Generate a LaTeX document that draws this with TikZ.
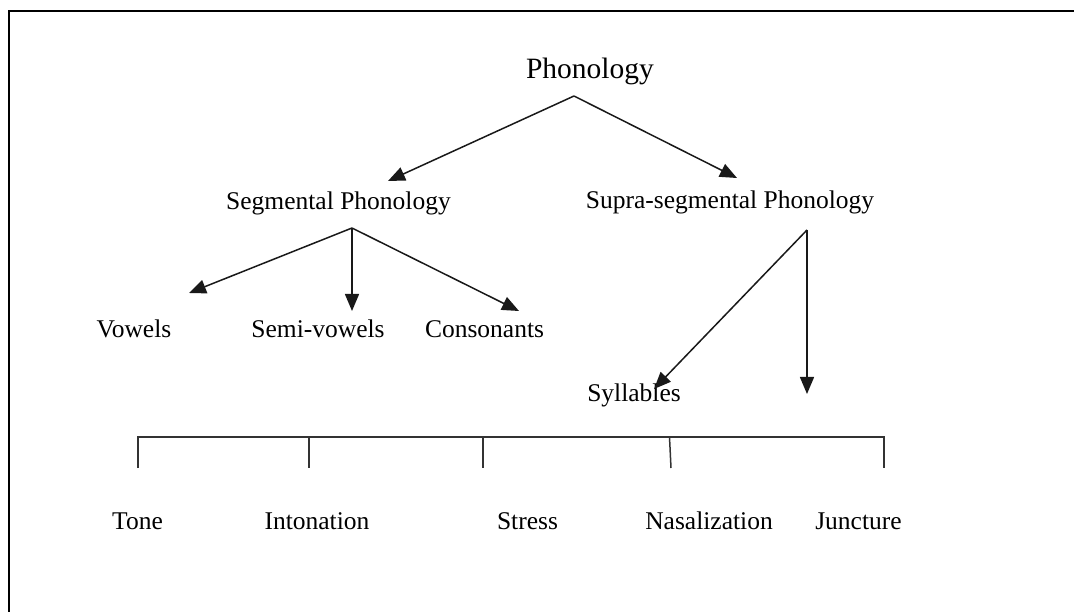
\documentclass[tikz,border=0pt]{standalone}
\usepackage{fontspec}
\setmainfont{Liberation Serif}
\usetikzlibrary{arrows.meta}
\begin{document}
\begin{tikzpicture}[x=1pt,y=-1pt,
  lbl/.style={anchor=base,inner sep=0pt,font=\fontsize{25.5}{30}\selectfont},
  toplbl/.style={lbl,font=\fontsize{29.5}{34}\selectfont},
  arr/.style={draw=black!90,line width=1.5pt,-{Triangle[length=17pt,width=14pt]}},
  brk/.style={draw=black!80,line width=1.5pt},
  frame/.style={draw=black,line width=2.2pt}]
\useasboundingbox (0,0) rectangle (1074,612);
% page frame (only top and left edges fall inside the view)
\draw[frame] (9,640) -- (9,11) -- (1090,11);

% labels
\node[toplbl] (phon) at (590,79) {Phonology};
\node[lbl] (seg) at (338.5,210) {Segmental Phonology};
\node[lbl] (supra) at (730,209) {Supra-segmental Phonology};
\node[lbl] (vow) at (134,338) {Vowels};
\node[lbl] (semi) at (318,338) {Semi-vowels};
\node[lbl] (cons) at (484.5,338) {Consonants};
\node[lbl] (syl) at (634,401) {Syllables};
\node[lbl] (tone) at (137.5,529) {Tone};
\node[lbl] (inton) at (317,529) {Intonation};
\node[lbl] (stress) at (527.5,529) {Stress};
\node[lbl] (nasal) at (709,529) {Nasalization};
\node[lbl] (junct) at (858.5,529) {Juncture};

% branching points and arrow tips
\coordinate (phonA) at (574,96);
\coordinate (segT) at (388,181);
\coordinate (supraT) at (737,178);
\coordinate (segA) at (352,228);
\coordinate (vowT) at (189,293);
\coordinate (semiT) at (352,311);
\coordinate (consT) at (519,311);
\coordinate (supraA) at (807,230);
\coordinate (sylT) at (654,389);
\coordinate (downT) at (807,394);

\draw[arr] (phonA) -- (segT);
\draw[arr] (phonA) -- (supraT);
\draw[arr] (segA) -- (vowT);
\draw[arr] (segA) -- (semiT);
\draw[arr] (segA) -- (consT);
\draw[arr] (supraA) -- (sylT);
\draw[arr] (supraA) -- (downT);

% bracket over the prosodic features
\coordinate (bL) at (138,437);
\coordinate (bR) at (884,437);
\draw[brk] (138,468) -- (bL) -- (bR) -- (884,468);
\draw[brk] (309,437) -- (309,468);
\draw[brk] (483,437) -- (483,468);
\draw[brk] (669.5,437) -- (671,468);
\end{tikzpicture}
\end{document}
